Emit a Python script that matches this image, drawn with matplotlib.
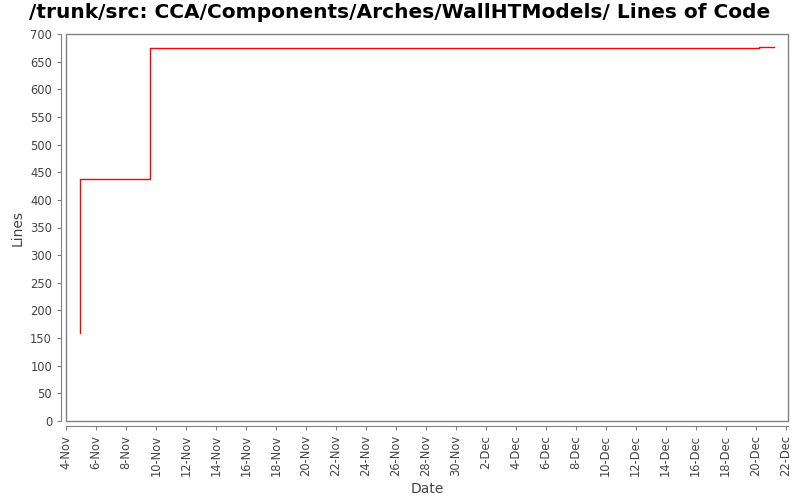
import numpy as np
import matplotlib
matplotlib.use("Agg")
import matplotlib.pyplot as plt
import matplotlib.dates as mdates
from matplotlib.patches import Rectangle
from datetime import datetime

# commit times and line counts
dates = [
    datetime(2006, 11, 4, 22, 30),
    datetime(2006, 11, 4, 22, 40),
    datetime(2006, 11, 9, 15, 0),
    datetime(2006, 12, 20, 5, 0),
    datetime(2006, 12, 21, 6, 0),
]
lines = [159, 437, 675, 677, 677]

title = "/trunk/src: CCA/Components/Arches/WallHTModels/ Lines of Code"

fig = plt.figure(figsize=(8, 5), dpi=100)
ax = fig.add_axes([0.0825, 0.158, 0.9025, 0.774])

ax.step(dates, lines, where="post", color="#ff0000", lw=1)

ax.set_xlim(datetime(2006, 11, 4), datetime(2006, 12, 22, 4))
ax.set_ylim(0, 700)
ax.set_yticks(np.arange(0, 701, 50))
ax.xaxis.set_major_locator(mdates.DayLocator(bymonthday=range(2, 32, 2)))
ax.xaxis.set_major_formatter(mdates.DateFormatter("%-d-%b"))

gray = "#808080"
for s in ax.spines.values():
    s.set_visible(False)
for s in ["left", "bottom"]:
    ax.spines[s].set_visible(True)
    ax.spines[s].set_color(gray)
    ax.spines[s].set_position(("outward", 3.5))
ax.add_patch(Rectangle((0, 0), 1, 1, transform=ax.transAxes, fill=False,
                       edgecolor=gray, lw=1, clip_on=False))

ax.tick_params(axis="both", colors=gray, labelcolor="#444444", labelsize=8.3,
               length=3)
plt.setp(ax.get_xticklabels(), rotation=90)

ax.set_xlabel("Date", fontsize=10, color="#444444")
ax.set_ylabel("Lines", fontsize=10, color="#444444")
fig.suptitle(title, fontsize=14.5, fontweight="bold", y=0.993)

fig.savefig("out.png", dpi=100)
